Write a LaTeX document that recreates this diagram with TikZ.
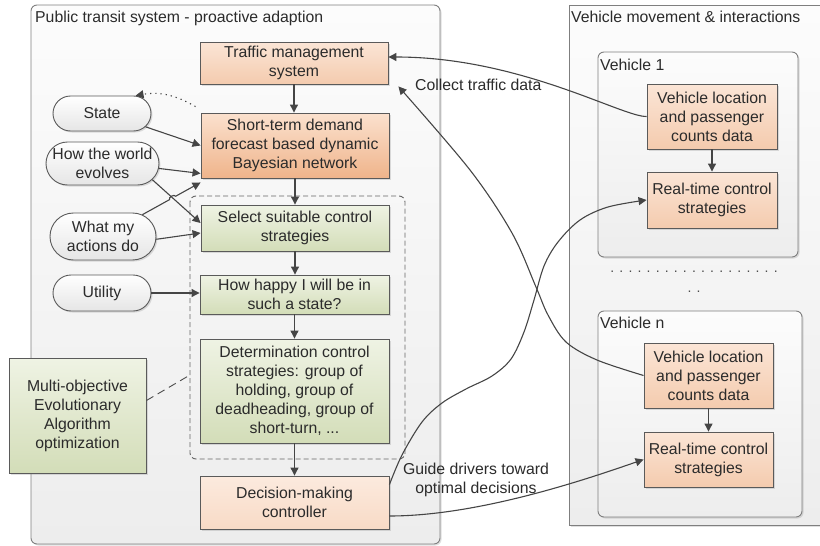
\documentclass[tikz,border=0pt]{standalone}
\usepackage{fontspec}
\setmainfont{Liberation Sans}
\usetikzlibrary{arrows.meta,shapes.misc,calc,shadows}

\definecolor{ink}{HTML}{2B2B2B}
\definecolor{wire}{HTML}{454545}
\definecolor{frame}{HTML}{7F7F7F}
\definecolor{boxline}{HTML}{5A5A5A}
\definecolor{orangeTop}{HTML}{FBE5D6}
\definecolor{orangeBot}{HTML}{F4CBAE}
\definecolor{deepTop}{HTML}{FBE1CE}
\definecolor{deepBot}{HTML}{EFB48B}
\definecolor{greenTop}{HTML}{EFF3E4}
\definecolor{greenBot}{HTML}{D3DDB8}
\definecolor{paleTop}{HTML}{FCFCFC}
\definecolor{paleBot}{HTML}{EDEDED}

\tikzset{
  txt/.style={text=ink, font=\fontsize{15.8}{19}\selectfont},
  shadowed/.style={drop shadow={shadow xshift=1.5pt, shadow yshift=-1.5pt, opacity=0.25, fill=black!50}},
  panel/.style={draw=frame, line width=0.9pt, top color=paleTop, bottom color=paleBot},
  basebox/.style={txt, draw=boxline, line width=0.9pt, align=center, inner sep=2pt, shadowed},
  orangebox/.style={basebox, top color=orangeTop, bottom color=orangeBot},
  deepbox/.style={basebox, top color=deepTop, bottom color=deepBot},
  greenbox/.style={basebox, top color=greenTop, bottom color=greenBot},
  pill/.style={txt, rounded rectangle, draw=boxline, line width=0.9pt, align=center,
    inner sep=1pt, top color=white, bottom color=black!10, shadowed},
  arr/.style={draw=wire, line width=1.1pt, -{Triangle[length=8pt,width=8pt]}},
  note/.style={txt},
}

\begin{document}
\begin{tikzpicture}[x=1pt, y=-1pt]
\useasboundingbox (0,0) rectangle (820,546);

% ---------- outer panels ----------
\node[panel, rounded corners=6pt, shadowed, minimum width=409pt, minimum height=539pt] (leftpanel) at (235.5,274.5) {};
\node[note, anchor=base west, inner sep=0pt] (lefttitle) at (35,22.5) {Public transit system - proactive adaption};

\node[panel, shadowed, minimum width=270pt, minimum height=520pt] (rightpanel) at (704,265) {};
\node[note, anchor=base west, inner sep=0pt] (righttitle) at (571,22.5) {Vehicle movement \& interactions};

\node[panel, rounded corners=6pt, shadowed, minimum width=200pt, minimum height=205pt] (veh1) at (698,154.5) {};
\node[note, anchor=base west, inner sep=0pt] (veh1title) at (600,70) {Vehicle 1};

\node[panel, rounded corners=6pt, shadowed, minimum width=204pt, minimum height=206pt] (vehn) at (700,414) {};
\node[note, anchor=base west, inner sep=0pt] (vehntitle) at (600,328) {Vehicle n};

\node[txt, text=black!70, align=center, inner sep=0pt, font=\fontsize{14}{20}\selectfont, anchor=base] (dots) at (694,292)
  {. . . . . . . . . . . . . . . . . . .\\. .};

% ---------- decision pipeline ----------
\node[orangebox, minimum width=188pt, minimum height=42pt] (tms) at (294,63) {Traffic management\\system};
\node[deepbox, minimum width=188pt, minimum height=65pt] (stf) at (295,145.5) {Short-term demand\\forecast based dynamic\\Bayesian network};
\node[greenbox, minimum width=188pt, minimum height=46pt] (sel) at (295,228) {Select suitable control\\strategies};
\node[greenbox, minimum width=189pt, minimum height=39pt] (hap) at (294.5,294.5) {How happy I will be in\\such a state?};
\node[greenbox, minimum width=189pt, minimum height=104pt] (det) at (294.5,391) {Determination control\\strategies: group of\\holding, group of\\deadheading, group of\\short-turn, ...};
\node[orangebox, minimum width=189pt, minimum height=53pt, top color=orangeTop!80!white, bottom color=orangeTop!60!orangeBot] (dec) at (294.5,502.5) {Decision-making\\controller};

% dashed group around the control-strategy steps
\draw[draw=black!60, line width=0.9pt, dash pattern=on 5pt off 3pt, rounded corners=6pt] (190,196) rectangle (405,459);
\coordinate (grp) at (190,375);

\node[greenbox, minimum width=137pt, minimum height=115pt] (moea) at (77.5,415.5) {Multi-objective\\Evolutionary\\Algorithm\\optimization};

% ---------- agent knowledge ----------
\node[pill, minimum width=100pt, minimum height=35pt] (state) at (102,113.5) {State};
\node[pill, minimum width=115pt, minimum height=43pt] (world) at (102.5,163.5) {How the world\\evolves};
\node[pill, minimum width=108pt, minimum height=47pt] (actions) at (103,236.5) {What my\\actions do};
\node[pill, minimum width=100pt, minimum height=36pt] (utility) at (102,293) {Utility};

% ---------- vehicles ----------
\node[orangebox, minimum width=130pt, minimum height=65pt] (vloc1) at (712,116.5) {Vehicle location\\and passenger\\counts data};
\node[orangebox, minimum width=130pt, minimum height=56pt] (rt1) at (712,200) {Real-time control\\strategies};
\node[orangebox, minimum width=129pt, minimum height=65pt] (vlocn) at (708.5,375.5) {Vehicle location\\and passenger\\counts data};
\node[orangebox, minimum width=129pt, minimum height=55pt] (rtn) at (708.5,459.5) {Real-time control\\strategies};

% ---------- vertical flow ----------
\draw[arr] (tms.south) -- (tms.south |- stf.north);
\draw[arr] (stf.south) -- (stf.south |- sel.north);
\draw[arr] (sel.south) -- (sel.south |- hap.north);
\draw[arr] (hap.south) -- (hap.south |- det.north);
\draw[arr] (det.south) -- (det.south |- dec.north);
\draw[arr] (vloc1.south) -- (rt1.north);
\draw[arr] (vlocn.south) -- (rtn.north);

% ---------- inputs from the knowledge pills ----------
\draw[arr] (state.-17) -- (stf.west);
\draw[arr] (world.-5) -- ($(stf.south west)+(0,-5)$);
\coordinate (wS) at (world.-18);
\coordinate (wT) at ($(sel.west)+(0,-5)$);
\coordinate (aS) at (actions.29);
\coordinate (aT) at ($(stf.south west)+(0,4)$);
\coordinate (hop) at (intersection of aS--aT and wS--wT);
\draw[arr] (wS) -- (wT);
\draw[arr] (aS) -- ($(hop)!3.5pt!(aS)$) to[bend left=90] ($(hop)!3.5pt!(aT)$) -- (aT);
\draw[arr] (actions.-3) -- ($(sel.west)+(0,5)$);
\draw[arr] (utility.east) -- (utility.east -| hap.west);
\coordinate (dotstart) at ($(stf.north west)+(-5,-6)$);
\draw[arr, dash pattern=on 1.2pt off 4pt] (dotstart) to[out=150, in=10] (state.28);

\draw[draw=black!70, line width=0.9pt, dash pattern=on 8pt off 5pt] ($(moea.east)+(0,-15)$) -- (grp);

% ---------- data collection and guidance ----------
\draw[arr] (vloc1.west) .. controls (622,117) and (520,57) .. ($(tms.east)+(0,-6)$);
\coordinate (tmsin) at ($(tms.south east)+(10,2)$);
\draw[arr] plot[smooth, tension=0.55] coordinates {(vlocn.west) (597,360) (566,342) (548,315) (536,287) (512,233) (470,170) (tmsin)};
\node[note, anchor=base west, inner sep=0pt] (collect) at (415,90) {Collect traffic data};

\coordinate (decout) at ($(dec.north east)+(0,9)$);
\draw[arr] plot[smooth, tension=0.55] coordinates {(decout) (402,455) (422,422) (442,403) (466,389) (492,376) (511,359) (524,332) (534,300) (544,266) (558,242) (580,220) (608,207) (rt1.west)};
\draw[arr] ($(dec.east)+(0,13.5)$) .. controls (480,516) and (590,478) .. (rtn.west);
\node[note, align=center, inner sep=0pt] (guide) at (476,480) {Guide drivers toward\\optimal decisions};

\end{tikzpicture}
\end{document}
